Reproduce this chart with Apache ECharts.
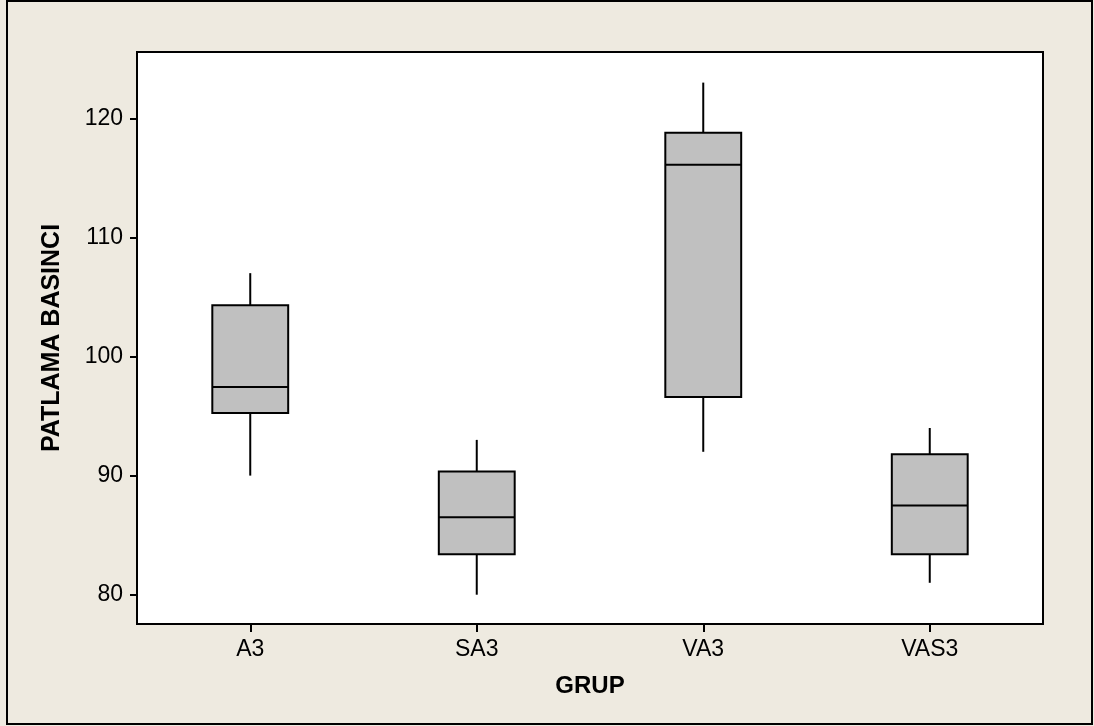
<!DOCTYPE html>
<html>
<head>
<meta charset="utf-8">
<script src="https://cdn.jsdelivr.net/npm/echarts@6/dist/echarts.min.js"></script>
<style>
html,body{margin:0;padding:0;background:#EEEAE0;}
#chart{width:1094px;height:726px;}
</style>
</head>
<body>
<div id="chart"></div>
<script>
const categories = ['A3', 'SA3', 'VA3', 'VAS3'];
const minVals    = [90, 80, 92, 81];
const q1Vals     = [95.25, 83.4, 96.6, 83.4];
const medianVals = [97.45, 86.5, 116.1, 87.5];
const q3Vals     = [104.3, 90.35, 118.8, 91.8];
const maxVals    = [107, 93, 123, 94];
const yTicks = [80, 90, 100, 110, 120];
const xTitle = 'GRUP';
const yTitle = 'PATLAMA BASINCI';

const boxData = categories.map((c, i) => [i, minVals[i], q1Vals[i], medianVals[i], q3Vals[i], maxVals[i]]);

const chart = echarts.init(document.getElementById('chart'), null, {renderer: 'canvas'});
const font = '"Liberation Sans", Arial, sans-serif';

function renderBox(params, api) {
  const idx = api.value(0);
  const pMin = api.coord([idx, api.value(1)]);
  const pQ1 = api.coord([idx, api.value(2)]);
  const pMed = api.coord([idx, api.value(3)]);
  const pQ3 = api.coord([idx, api.value(4)]);
  const pMax = api.coord([idx, api.value(5)]);
  const band = api.size([1, 0])[0];
  const w = band * 0.335;
  const x = pMed[0];
  const lineStyle = {stroke: '#000', lineWidth: 2};
  return {
    type: 'group',
    children: [
      {type: 'line', shape: {x1: x, y1: pMax[1], x2: x, y2: pQ3[1]}, style: lineStyle},
      {type: 'line', shape: {x1: x, y1: pQ1[1], x2: x, y2: pMin[1]}, style: lineStyle},
      {type: 'rect', shape: {x: x - w / 2, y: pQ3[1], width: w, height: pQ1[1] - pQ3[1]},
       style: {fill: '#C0C0C0', stroke: '#000', lineWidth: 2}},
      {type: 'line', shape: {x1: x - w / 2, y1: pMed[1], x2: x + w / 2, y2: pMed[1]}, style: lineStyle}
    ]
  };
}

chart.setOption({
  backgroundColor: '#EEEAE0',
  animation: false,
  graphic: [{
    type: 'rect',
    shape: {x: 7, y: 1, width: 1085, height: 723},
    style: {fill: 'none', stroke: '#000', lineWidth: 2},
    silent: true
  }],
  grid: {
    left: 137, right: 51, top: 52, bottom: 102,
    show: true, backgroundColor: '#fff', borderColor: '#000', borderWidth: 2
  },
  xAxis: {
    type: 'category',
    data: categories,
    boundaryGap: true,
    name: xTitle,
    nameLocation: 'middle',
    nameGap: 50,
    nameTextStyle: {fontFamily: font, fontWeight: 'bold', fontSize: 24, color: '#000'},
    axisLine: {show: true, lineStyle: {color: '#000', width: 2}},
    axisTick: {show: true, alignWithLabel: true, length: 8, lineStyle: {color: '#000', width: 2}},
    axisLabel: {fontFamily: font, fontSize: 23, color: '#000', margin: 14},
    splitLine: {show: false}
  },
  yAxis: {
    type: 'value',
    min: 77.54,
    max: 125.57,
    name: yTitle,
    nameLocation: 'middle',
    nameGap: 72,
    nameRotate: 90,
    nameTextStyle: {fontFamily: font, fontWeight: 'bold', fontSize: 25, color: '#000'},
    axisLine: {show: true, lineStyle: {color: '#000', width: 2}},
    axisTick: {show: true, length: 7, customValues: yTicks, lineStyle: {color: '#000', width: 2}},
    axisLabel: {fontFamily: font, fontSize: 23, color: '#000', margin: 14, customValues: yTicks},
    splitLine: {show: false}
  },
  series: [{
    type: 'custom',
    renderItem: renderBox,
    data: boxData,
    encode: {x: 0, y: [1, 2, 3, 4, 5]},
    clip: false
  }]
});
</script>
</body>
</html>
